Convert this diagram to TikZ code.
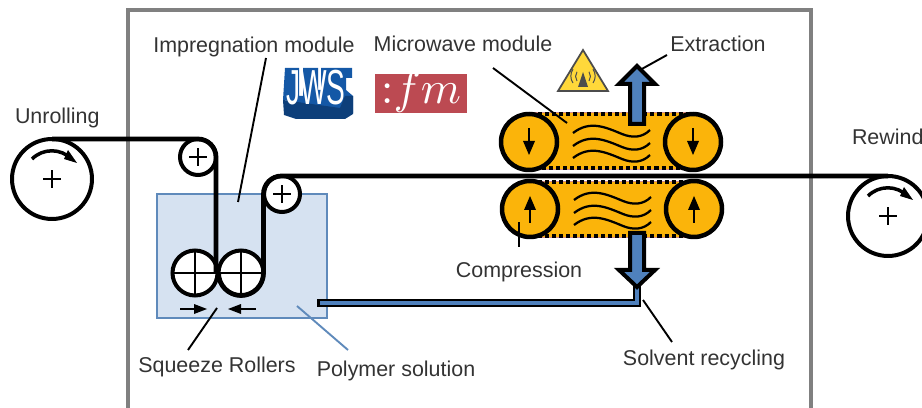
\documentclass[tikz,border=0pt]{standalone}
\usepackage{fontspec}
\setmainfont{Liberation Sans}
\definecolor{framegray}{HTML}{808080}
\definecolor{bathfill}{HTML}{D6E2F1}
\definecolor{bathline}{HTML}{5F8ABB}
\definecolor{pipeblue}{HTML}{4F81BD}
\definecolor{ovenfill}{HTML}{FBB40A}
\definecolor{ovenline}{HTML}{D88A8A}
\definecolor{warnfill}{HTML}{FFD83A}
\definecolor{jwsblue}{HTML}{1458A6}
\definecolor{jwsdark}{HTML}{0D3F7A}
\definecolor{fmred}{HTML}{BC4A52}
\definecolor{labelgray}{HTML}{333333}
\tikzset{
rollbig/.style={draw=black,fill=white,circle,line width=0.8mm,minimum size=1.6cm},
rollsmall/.style={draw=black,fill=white,circle,line width=0.8mm,minimum size=0.72cm},
rollsqueeze/.style={draw=black,fill=white,circle,line width=0.8mm,minimum size=0.9cm},
rollheat/.style={draw=black,fill=ovenfill,circle,line width=0.9mm,minimum size=1.12cm},
web/.style={black,line width=0.95mm},
lead/.style={black,line width=0.38mm},
dotrow/.style={black,line width=0.7mm,dash pattern=on 2.3pt off 1.7pt},
wave/.style={black,line width=0.45mm},
lbl/.style={text=labelgray,font=\fontsize{12.2}{14}\selectfont}
}
\begin{document}
\begin{tikzpicture}[x=0.02cm,y=0.02cm]
\tikzstyle{every node}+=[inner sep=0pt,outer sep=0pt]
\useasboundingbox (0,0) rectangle (922,-408);
\draw [framegray,line width=0.85mm] (128,-408) -- (128,-10) -- (811,-10) -- (811,-408);
\node [lbl,anchor=west] (unrolling) at (15,-118) {Unrolling};
\node [lbl] (impregnation) at (254,-47) {Impregnation module};
\node [lbl] (microwave) at (463,-44) {Microwave module};
\node [lbl] (extraction) at (718,-44) {Extraction};
\node [lbl,anchor=west] (rewind) at (852,-137) {Rewind};
\node [lbl] (compression) at (519,-272) {Compression};
\node [lbl] (squeeze) at (217,-367) {Squeeze Rollers};
\node [lbl] (polymer) at (396,-371) {Polymer solution};
\node [lbl] (solvent) at (704,-360) {Solvent recycling};
\fill [jwsblue] (285,-68) -- (299,-68) -- (299,-96) -- (303,-96) -- (303,-68) -- (318,-68) -- (318,-90) -- (321,-90) -- (321,-68) -- (352,-68) -- (352,-78) -- (346,-78) -- (346,-90) -- (353,-96) -- (353,-113) -- (283,-100) -- cycle;
\fill [jwsdark] (283,-100) -- (340,-108) -- (345,-96) -- (353,-96) -- (353,-114) -- (345,-119) -- (296,-119) -- (284,-115) -- cycle;
\node [text=white] (jws) at (316,-88) {\scalebox{1.6}[2.8]{JWS}};
\draw [fmred,fill=fmred] (375,-74) rectangle (466,-112);
\node [text=white] (fm) at (421,-92) {\scalebox{2.6}{${:}fm$}};
\draw [bathline,fill=bathfill,line width=0.35mm] (157,-194) rectangle (327,-318);
\draw [ovenline,fill=ovenfill,line width=0.2mm] (529,-113) rectangle (693,-170);
\draw [ovenline,fill=ovenfill,line width=0.2mm] (530,-182) rectangle (694,-238);
\draw [dotrow] (538,-114) -- (688,-114);
\draw [dotrow] (535,-168) -- (686,-168);
\draw [dotrow] (538,-182) -- (686,-182);
\draw [dotrow] (538,-236) -- (686,-236);
\node [rollbig] (unroll) at (52,-179) {};
\node [rollbig] (rewindroll) at (888,-216) {};
\node [rollsmall] (guidein) at (198,-157) {};
\node [rollsmall] (guideout) at (282,-194) {};
\node [rollsqueeze] (squeezel) at (195,-273) {};
\node [rollsqueeze] (squeezer) at (241,-273) {};
\node [rollheat] (heatul) at (529,-142) {};
\node [rollheat] (heatur) at (693,-142) {};
\node [rollheat] (heatll) at (530,-209) {};
\node [rollheat] (heatlr) at (694,-209) {};
\draw [web] (unroll.north) -- (guidein.north) arc (90:0:18) -- (216,-273);
\draw [web] (squeezer.west) arc (180:360:22.5) -- (squeezer.east |- guideout.west) arc (180:90:18) -- (rewindroll.north);
\draw [black,line width=0.3mm] (squeezel.north) -- (squeezel.south);
\draw [black,line width=0.3mm] (squeezel.west) -- (squeezel.east);
\draw [black,line width=0.3mm] (squeezer.north) -- (squeezer.south);
\draw [black,line width=0.3mm] (squeezer.west) -- (squeezer.east);
\draw [black,line width=0.3mm] (guidein) +(-9,0) -- +(9,0);
\draw [black,line width=0.3mm] (guidein) +(0,-9) -- +(0,9);
\draw [black,line width=0.3mm] (guideout) +(-9,0) -- +(9,0);
\draw [black,line width=0.3mm] (guideout) +(0,-9) -- +(0,9);
\draw [black,line width=0.3mm] (unroll) +(-9,0) -- +(9,0);
\draw [black,line width=0.3mm] (unroll) +(0,-9) -- +(0,9);
\draw [black,line width=0.3mm] (rewindroll) +(-9,0) -- +(9,0);
\draw [black,line width=0.3mm] (rewindroll) +(0,-9) -- +(0,9);
\draw [black,line width=0.7mm] (unroll) +(-20,20) arc (135:45:28);
\fill [black] (77,-163) -- (68,-150) -- (64,-159);
\draw [black,line width=0.7mm] (rewindroll) +(-20,20) arc (135:45:28);
\fill [black] (913,-200) -- (904,-187) -- (900,-196);
\draw [black,line width=0.4mm] (180,-309) -- (198,-309);
\fill [black] (207,-309) -- (194,-304) -- (194,-314);
\draw [black,line width=0.4mm] (256,-309) -- (238,-309);
\fill [black] (228,-309) -- (241,-304) -- (241,-314);
\draw [black,line width=0.5mm] (heatul) +(0,14) -- +(0,-2);
\fill [black] (heatul) +(0,-13) -- +(-6,1) -- +(6,1);
\draw [black,line width=0.5mm] (heatur) +(0,14) -- +(0,-2);
\fill [black] (heatur) +(0,-13) -- +(-6,1) -- +(6,1);
\draw [black,line width=0.5mm] (heatll) +(0,-14) -- +(0,2);
\fill [black] (heatll) +(0,13) -- +(-6,-1) -- +(6,-1);
\draw [black,line width=0.5mm] (heatlr) +(0,-14) -- +(0,2);
\fill [black] (heatlr) +(0,13) -- +(-6,-1) -- +(6,-1);
\draw [wave] (573,-133) .. controls (590,-120) and (605,-127) .. (622,-134) .. controls (632,-138) and (642,-138) .. (650,-130);
\draw [wave] (573,-146) .. controls (590,-133) and (605,-140) .. (622,-147) .. controls (632,-151) and (642,-151) .. (650,-143);
\draw [wave] (573,-158) .. controls (590,-145) and (605,-152) .. (622,-159) .. controls (632,-163) and (642,-163) .. (650,-155);
\draw [wave] (574,-200) .. controls (591,-187) and (606,-194) .. (623,-201) .. controls (633,-205) and (643,-205) .. (651,-197);
\draw [wave] (574,-213) .. controls (591,-200) and (606,-207) .. (623,-214) .. controls (633,-218) and (643,-218) .. (651,-210);
\draw [wave] (574,-225) .. controls (591,-212) and (606,-219) .. (623,-226) .. controls (633,-230) and (643,-230) .. (651,-222);
\draw [black,line join=miter,line width=1.5mm] (317,-303) -- (637,-303) -- (637,-282);
\draw [pipeblue,line width=0.7mm] (320,-303) -- (637,-303) -- (637,-282);
\draw [black,fill=pipeblue,line width=0.8mm,line join=miter] (630,-124) -- (630,-84) -- (619,-84) -- (637,-66) -- (655,-84) -- (644,-84) -- (644,-124) -- cycle;
\draw [black,fill=pipeblue,line width=0.8mm,line join=miter] (630,-233) -- (630,-270) -- (619,-270) -- (637,-287) -- (655,-270) -- (644,-270) -- (644,-233) -- cycle;
\draw [black!70,fill=warnfill,line width=0.35mm,line join=miter] (583,-50) -- (558,-91) -- (608,-91) -- cycle;
\fill [black!70] (583,-72) -- (578,-87) -- (588,-87);
\draw [black!70,line width=0.2mm] (577,-81) arc (215:145:8);
\draw [black!70,line width=0.2mm] (589,-81) arc (-35:35:8);
\draw [black!70,line width=0.2mm] (573,-83) arc (215:145:12);
\draw [black!70,line width=0.2mm] (593,-83) arc (-35:35:12);
\coordinate (impregnationend) at (238,-202);
\coordinate (microwaveend) at (567,-123);
\coordinate (extractionend) at (640,-70);
\coordinate (compressionend) at (519,-222);
\coordinate (squeezeend) at (217,-308);
\coordinate (polymerend) at (297,-306);
\coordinate (solventend) at (643,-300);
\draw [lead] (266,-58) -- (impregnationend);
\draw [lead] (493,-68) -- (microwaveend);
\draw [lead] (667,-55) -- (extractionend);
\draw [lead] (519,-247) -- (compressionend);
\draw [lead] (188,-350) -- (squeezeend);
\draw [bathline,line width=0.38mm] (348,-350) -- (polymerend);
\draw [lead] (672,-342) -- (solventend);
\end{tikzpicture}
\end{document}
